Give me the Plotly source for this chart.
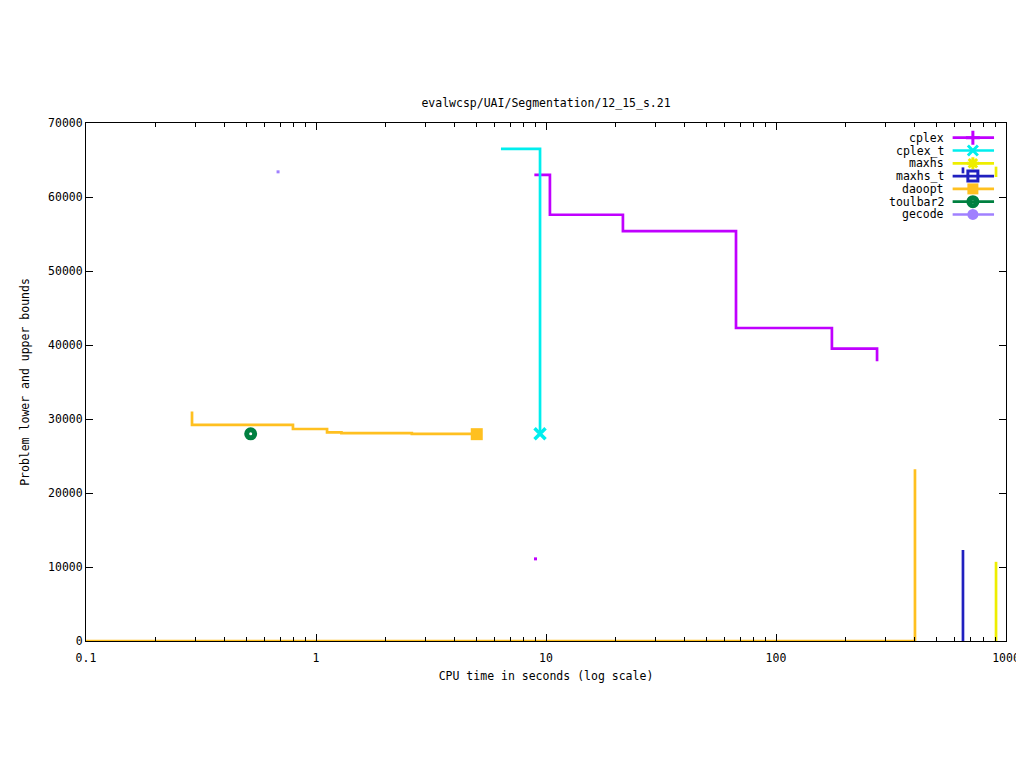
import plotly.graph_objects as go

# ---- data ----
cplex_ub_t = [8.9, 10.4, 21.6, 67, 175, 275]
cplex_ub_v = [63000, 57600, 55400, 42300, 39500, 37800]
cplex_lb_t = [9.0]
cplex_lb_v = [11100]

cplex_t_ub_t = [6.37, 9.42]
cplex_t_ub_v = [66500, 28000]

maxhs_ub_t = [905, 905]
maxhs_ub_v = [64100, 62700]
maxhs_lb_t = [905, 905]
maxhs_lb_v = [0, 10700]

maxhs_t_ub_t = [650, 650]
maxhs_t_ub_v = [64000, 63200]
maxhs_t_lb_t = [650, 650]
maxhs_t_lb_v = [0, 12300]

daoopt_ub_t = [0.289, 0.289, 0.794, 1.117, 1.29, 2.61, 5.0]
daoopt_ub_v = [31000, 29200, 28650, 28200, 28100, 27980, 27950]
daoopt_lb_t = [0.1, 402]
daoopt_lb_v = [0, 23200]

toulbar2_t = [0.52]
toulbar2_v = [28000]

gecode_t = [0.684]
gecode_v = [63400]

series_names = ["cplex", "cplex_t", "maxhs", "maxhs_t", "daoopt", "toulbar2", "gecode"]
series_colors = ["#c000ff", "#00eeee", "#eeee00", "#2020c0", "#ffc020", "#008040", "#a080ff"]
series_symbols = ["cross-thin", "x-thin", "asterisk", "square-open", "square", "circle-open", "circle"]

x_tickvals = [0.1, 1, 10, 100, 1000]
x_ticktext = ["0.1", "1", "10", "100", "1000"]
y_tickvals = [0, 10000, 20000, 30000, 40000, 50000, 60000, 70000]

FONT = "DejaVu Sans Mono"
C = dict(zip(series_names, series_colors))

fig = go.Figure()

def line(x, y, color, shape="hv", w=2.7):
    fig.add_trace(go.Scatter(x=x, y=y, mode="lines", line=dict(color=color, width=w, shape=shape),
                             showlegend=False, hoverinfo="skip", cliponaxis=False))

def pts(x, y, color, symbol, size, lw=0):
    fig.add_trace(go.Scatter(x=x, y=y, mode="markers",
                             marker=dict(color=color, symbol=symbol, size=size,
                                         line=dict(color=color, width=lw)),
                             showlegend=False, hoverinfo="skip"))

# lower bounds
line(daoopt_lb_t, daoopt_lb_v, C["daoopt"])
line(maxhs_t_lb_t, maxhs_t_lb_v, C["maxhs_t"])
line(maxhs_lb_t, maxhs_lb_v, C["maxhs"])
# upper bounds
line(cplex_ub_t, cplex_ub_v, C["cplex"])
line(cplex_t_ub_t, cplex_t_ub_v, C["cplex_t"])
line(maxhs_ub_t, maxhs_ub_v, C["maxhs"])
line(maxhs_t_ub_t, maxhs_t_ub_v, C["maxhs_t"])
line(daoopt_ub_t, daoopt_ub_v, C["daoopt"])
# points
pts(cplex_lb_t, cplex_lb_v, C["cplex"], "square", 3)
pts(gecode_t, gecode_v, C["gecode"], "square", 3)
pts(cplex_t_ub_t[-1:], cplex_t_ub_v[-1:], C["cplex_t"], "x-thin", 11, 3.5)
pts(daoopt_ub_t[-1:], daoopt_ub_v[-1:], C["daoopt"], "square", 12)
pts(toulbar2_t, toulbar2_v, C["toulbar2"], "circle-open", 8, 5)

# ---- legend (keys drawn on an overlay axis spanning the plot area) ----
L_TEXT_X = 0.9348
L_LINE_X0, L_LINE_X1, L_MARK_X = 0.942, 0.987, 0.964
row_y = [0.9716 - i * 0.0247 for i in range(len(series_names))]
for i, (name, col, sym) in enumerate(zip(series_names, series_colors, series_symbols)):
    fig.add_trace(go.Scatter(x=[L_LINE_X0, L_LINE_X1], y=[row_y[i], row_y[i]], mode="lines",
                             line=dict(color=col, width=2.7), xaxis="x2", yaxis="y2",
                             showlegend=False, hoverinfo="skip"))
    filled = sym in ("square", "circle")
    if sym == "circle-open":
        msize, mlw = 8, 5
    elif filled:
        msize, mlw = 11, 0
    else:
        msize, mlw = 10, 3
    fig.add_trace(go.Scatter(x=[L_MARK_X], y=[row_y[i]], mode="markers",
                             marker=dict(color=col, symbol=sym, size=msize,
                                         line=dict(color=col, width=mlw)),
                             xaxis="x2", yaxis="y2", showlegend=False, hoverinfo="skip"))
    fig.add_annotation(x=L_TEXT_X, y=row_y[i], xref="x2", yref="y2", text=name, showarrow=False,
                       xanchor="right", yanchor="middle", font=dict(family=FONT, size=11.5, color="black"))

# page body adds an 8px offset; margins are chosen so the plot area lands at
# x 86..1006, y 123..641 in the 1024x768 window
fig.update_layout(
    width=1024, height=768,
    paper_bgcolor="white", plot_bgcolor="white",
    margin=dict(l=78, r=26, t=115, b=135, autoexpand=False),
    font=dict(family=FONT, size=11.5, color="black"),
    title=dict(text="evalwcsp/UAI/Segmentation/12_15_s.21", x=538 / 1024, xanchor="center",
               y=1 - 95 / 768, yanchor="middle", font=dict(family=FONT, size=11.5)),
    showlegend=False,
    xaxis=dict(type="log", range=[-1, 3], tickvals=x_tickvals, ticktext=x_ticktext,
               automargin=False, ticklabelstandoff=6,
               ticks="inside", ticklen=7, tickcolor="black", showline=True, linecolor="black",
               linewidth=1, mirror="ticks", showgrid=False, zeroline=False,
               minor=dict(ticks="inside", ticklen=4, tickcolor="black", dtick="D1", showgrid=False),
               title=dict(text="CPU time in seconds (log scale)", standoff=8,
                          font=dict(family=FONT, size=11.5))),
    yaxis=dict(range=[0, 70000], tickvals=y_tickvals, tickformat="d", automargin=False,
               ticks="inside", ticklen=7, tickcolor="black", showline=True, linecolor="black",
               linewidth=1, mirror="ticks", showgrid=False, zeroline=False,
               title=dict(text="Problem lower and upper bounds", standoff=16,
                          font=dict(family=FONT, size=11.5))),
    xaxis2=dict(overlaying="x", range=[0, 1], visible=False, anchor="y2", automargin=False),
    yaxis2=dict(overlaying="y", range=[0, 1], visible=False, anchor="x2", automargin=False),
)

fig.write_html("out.html")
